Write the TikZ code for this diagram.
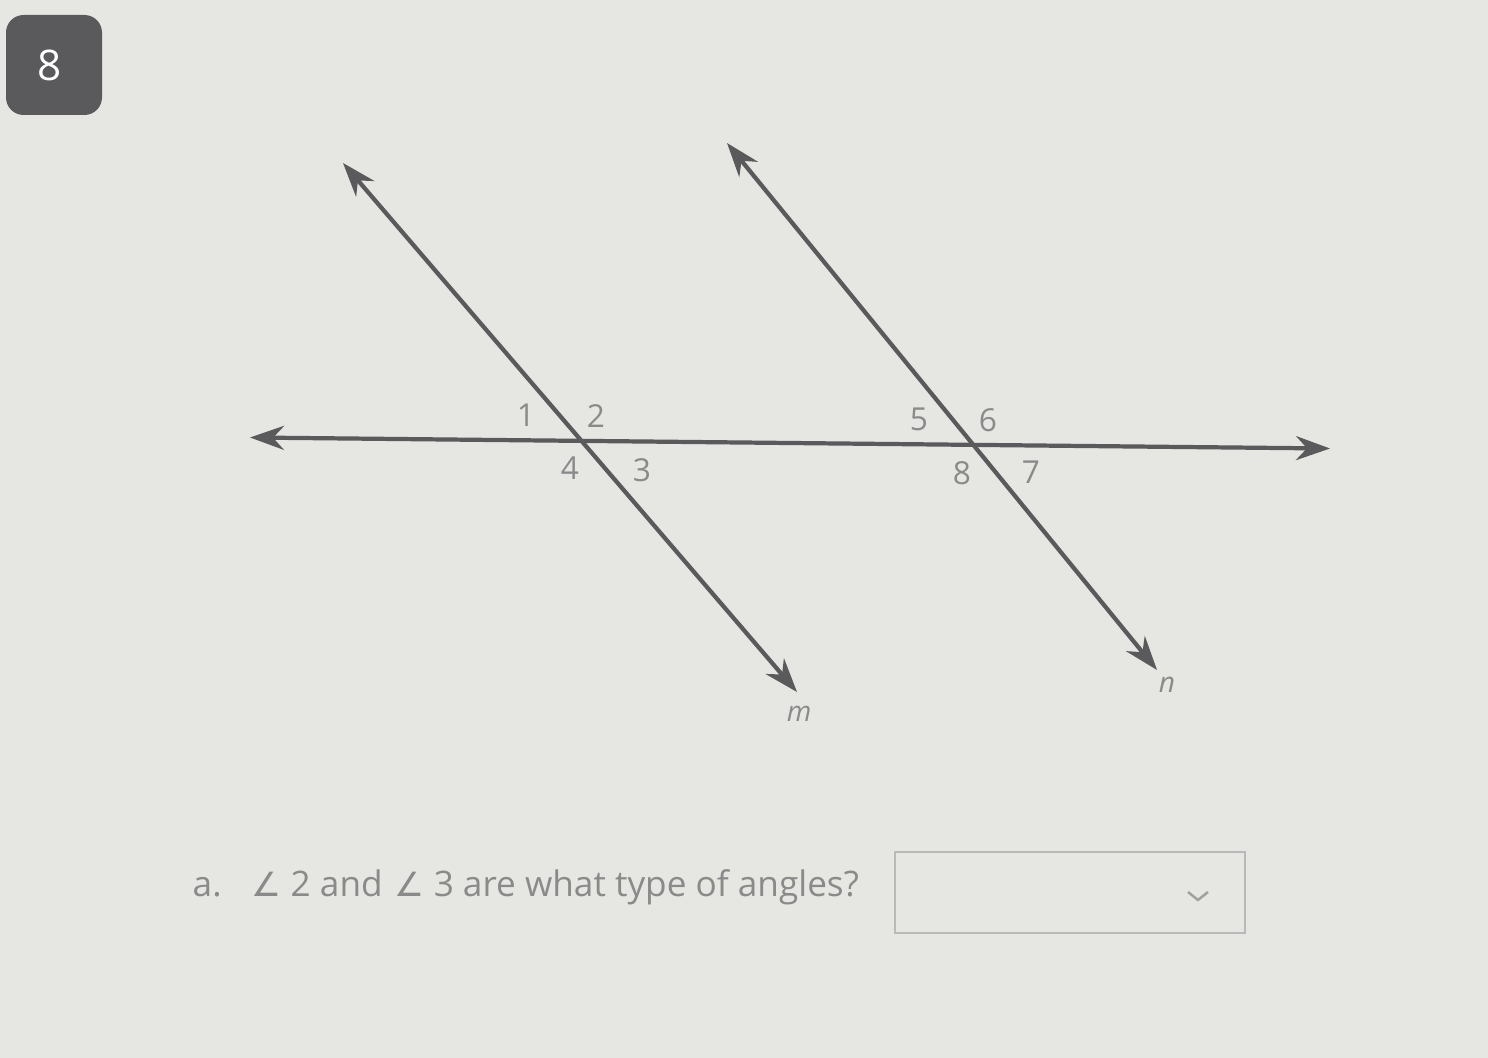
\documentclass[tikz,border=0pt]{standalone}
\usepackage{fontspec}
\setmainfont{Open Sans}
\newfontfamily\symfont{DejaVu Sans}
\usetikzlibrary{arrows.meta}
\definecolor{paper}{HTML}{E6E6E3}
\definecolor{ink}{HTML}{5A5A5C}
\definecolor{txt}{HTML}{8A8A8A}
\begin{document}
\begin{tikzpicture}[x=0.01cm, y=-0.01cm,
  line/.style={ink, line width=1.2pt, {Stealth[length=0.34cm, width=0.24cm]}-{Stealth[length=0.34cm, width=0.24cm]}},
  num/.style={txt, font=\fontsize{9}{10}\selectfont},
  lbl/.style={txt, font=\fontsize{8}{9}\selectfont\itshape}]
  % page
  \fill [paper] (0,0) rectangle (1488,1058);
  \useasboundingbox (0,0) rectangle (1488,1058);
  % question number
  \fill [ink, rounded corners=5pt] (6,15) rectangle (102,115);
  \node [white, font=\fontsize{12}{14}\selectfont] (qnum) at (50,65) {8};
  % lines
  \coordinate (tleft) at (250,437.5);
  \coordinate (tright) at (1330,448.5);
  \coordinate (mtop) at (343,163);
  \coordinate (mbot) at (797,692);
  \coordinate (ntop) at (727,143);
  \coordinate (nbot) at (1157,670);
  \draw [line] (tleft) -- (tright);
  \draw [line] (mtop) -- (mbot);
  \draw [line] (ntop) -- (nbot);
  % angle numbers
  \node [num] (a1) at (526,415) {1};
  \node [num] (a2) at (596,416) {2};
  \node [num] (a4) at (570,468) {4};
  \node [num] (a3) at (642,470) {3};
  \node [num] (a5) at (919,419) {5};
  \node [num] (a6) at (988,420) {6};
  \node [num] (a8) at (962,473) {8};
  \node [num] (a7) at (1031,472) {7};
  \node [lbl] (mlab) at (799,714) {m};
  \node [lbl] (nlab) at (1167,685) {n};
  % question
  \node [txt, anchor=west, inner sep=0pt, font=\fontsize{10}{12}\selectfont] (quest) at (192,887)
    {a.\hspace{0.3cm}{\symfont\fontsize{9.5}{11}\selectfont ∠} 2 and\hspace{0.12cm}{\symfont\fontsize{9.5}{11}\selectfont ∠} 3 are what type of angles?};
  % dropdown
  \draw [txt!60, line width=0.6pt] (895,852) rectangle (1245,933);
  \coordinate (chev) at (1198,900);
  \draw [txt!80, line width=0.7pt] ([xshift=-0.1cm, yshift=0.08cm]chev) -- (chev) -- ([xshift=0.1cm, yshift=0.08cm]chev);
\end{tikzpicture}
\end{document}
